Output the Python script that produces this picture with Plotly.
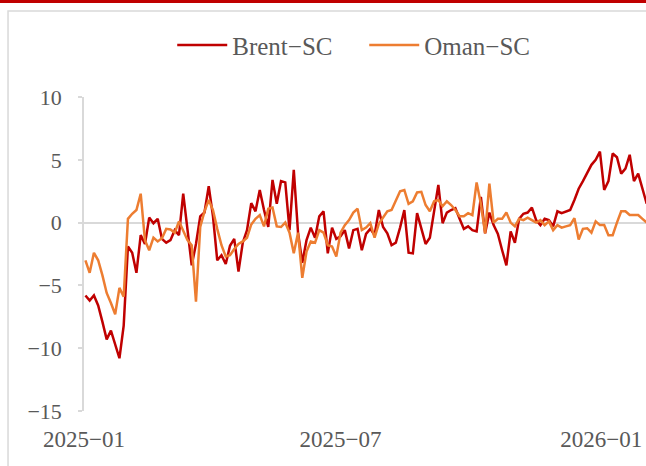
import pandas as pd
import plotly.graph_objects as go

brent = [-5.8, -6.2, -5.8, -6.6, -7.9, -9.3, -8.6, -9.8, -10.8, -8.2,
         -1.9, -2.4, -4.0, -1.0, -1.7, 0.4, -0.05, 0.3, -1.3, -1.6,
         -1.4, -0.6, -1.0, 2.3, -0.8, -3.4, -1.7, 0.5, 0.8, 2.9,
         0.5, -3.0, -2.6, -3.3, -1.85, -1.3, -3.9, -1.6, -0.6, 1.55,
         0.9, 2.6, 1.0, -0.35, 3.4, 1.5, 3.3, 3.2, -0.6, 4.2,
         -0.8, -3.2, -1.4, -0.4, -1.2, 0.5, 0.9, -2.45, -0.4, -1.3,
         -1.1, -0.6, -2.05, -0.6, -0.5, -2.2, -0.9, -0.5, -1.0, 1.0,
         -0.35, -0.85, -1.8, -1.6, -0.4, 1.0, -2.4, -2.45, 0.75, -0.5,
         -1.7, -1.2, 0.9, 3.0, -0.05, 0.8, 1.0, 1.15, 0.3, -0.5,
         -0.3, -0.6, -0.7, 2.05, -0.85, 0.8, -0.2, -0.9, -2.2, -3.4,
         -0.7, -1.6, 0.3, 0.7, 0.8, 1.2, 0.2, -0.2, 0.3, 0.2,
         -0.3, 0.9, 0.75, 0.9, 1.0, 1.8, 2.7, 3.3, 4.0, 4.6,
         5.0, 5.65, 2.6, 3.3, 5.5, 5.2, 3.9, 4.3, 5.4, 3.3,
         3.9, 2.8, 1.5]

oman = [-3.0, -4.0, -2.4, -3.0, -4.2, -5.6, -6.4, -7.3, -5.2, -5.9,
        0.3, 0.7, 1.0, 2.3, -1.4, -2.2, -1.2, -1.5, -1.25, -0.5,
        -0.55, -0.8, 0.1, -0.6, -1.4, -1.8, -6.3, -0.35, 0.9, 1.8,
        1.0, -0.5, -1.8, -2.7, -2.6, -2.1, -1.7, -1.5, -1.2, -0.15,
        0.3, 0.6, -0.3, 1.1, 1.2, -0.3, -0.35, 0.0, -0.8, -2.45,
        -0.8, -4.4, -2.3, -1.5, -1.6, -0.6, -0.8, -1.8, -1.9, -2.7,
        -0.8, -0.2, 0.2, 0.8, 1.1, -0.6, -0.4, -0.05, -1.2, -0.1,
        0.4, 0.9, 1.0, 1.8, 2.5, 2.6, 1.5, 1.7, 2.4, 2.45,
        1.4, 0.9, 1.7, 1.8, 1.3, 1.7, 1.4, 1.0, 0.5, 0.5,
        0.75, 0.6, 3.2, 1.5, -0.85, 3.1, 0.0, 0.3, 0.3, 0.8,
        0.0, -0.3, 0.3, 0.2, 0.4, 0.2, 0.0, 0.2, -0.2, 0.1,
        -0.6, -0.2, -0.4, -0.3, -0.2, 0.35, -1.35, -0.5, -0.45, -0.8,
        0.1, -0.2, -0.2, -1.0, -1.0, 0.0, 0.9, 0.9, 0.6, 0.6,
        0.6, 0.3, 0.0]

dates = pd.date_range("2025-01-02", periods=len(brent), freq="3D")

series_names = ["Brent\u2212SC", "Oman\u2212SC"]
x_tickvals = ["2025-01-01", "2025-07-01", "2026-01-01"]
x_ticktext = ["2025\u221201", "2025\u221207", "2026\u221201"]
y_tickvals = [10, 5, 0, -5, -10, -15]
y_ticktext = ["10", "5", "0", "\u22125", "\u221210", "\u221215"]

FONT = "Liberation Serif"
GRAY = "#595959"

fig = go.Figure()
fig.add_trace(go.Scatter(x=dates, y=brent, mode="lines", name=series_names[0],
                         line=dict(color="#c00000", width=2.5)))
fig.add_trace(go.Scatter(x=dates, y=oman, mode="lines", name=series_names[1],
                         line=dict(color="#ed7d31", width=2.5)))

fig.update_layout(
    width=646, height=466,
    margin=dict(l=84, r=0, t=97, b=55),
    paper_bgcolor="white", plot_bgcolor="white",
    font=dict(family=FONT, size=22, color=GRAY),
    showlegend=True,
    legend=dict(orientation="h", x=0.157, xanchor="left", y=1.165, yanchor="middle",
                font=dict(family=FONT, size=25, color=GRAY), itemwidth=50,
                entrywidth=127, entrywidthmode="pixels",
                bgcolor="rgba(0,0,0,0)"),
    xaxis=dict(type="date", range=["2025-01-01", "2026-02-01 12:00"],
               tickmode="array", tickvals=x_tickvals, ticktext=x_ticktext,
               showgrid=False, zeroline=False, showline=False, ticks="",
               ticklabelstandoff=12,
               tickfont=dict(family=FONT, size=23, color=GRAY)),
    yaxis=dict(range=[-15, 10], tickmode="array", tickvals=y_tickvals, ticktext=y_ticktext,
               showgrid=False, zeroline=True, zerolinecolor="#d9d9d9", zerolinewidth=2,
               showline=True, linecolor="#d9d9d9", linewidth=1.5,
               ticks="outside", ticklen=4, tickcolor="#d9d9d9", tickwidth=1.5,
               ticklabelstandoff=12,
               tickfont=dict(family=FONT, size=22, color=GRAY)),
    shapes=[
        dict(type="rect", xref="paper", yref="paper", x0=-0.1352, x1=1.3, y0=-0.4, y1=1.2739,
             line=dict(color="#d9d9d9", width=1.5), fillcolor="rgba(0,0,0,0)", layer="below"),
        dict(type="rect", xref="paper", yref="paper", x0=-0.3, x1=1.3, y0=1.2994, y1=1.33,
             line=dict(width=0), fillcolor="#c00000", layer="above"),
    ],
)

fig.write_html("out.html", config={"displayModeBar": False},
               post_script="document.body.style.margin='0';document.body.style.overflow='hidden';")
